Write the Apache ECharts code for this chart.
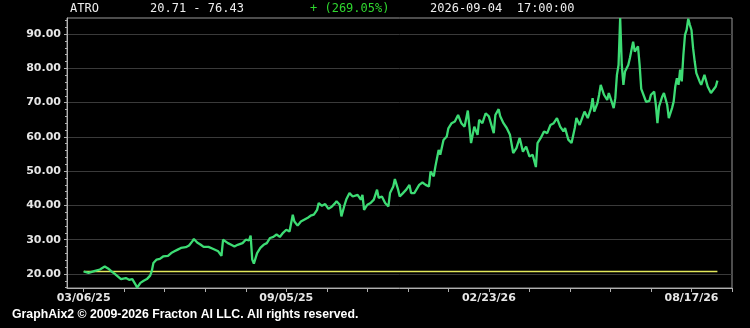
<!DOCTYPE html>
<html><head><meta charset="utf-8">
<script src="https://cdn.jsdelivr.net/npm/echarts@6/dist/echarts.min.js"></script>
<style>html,body{margin:0;padding:0;background:#000}#c{width:750px;height:328px}</style>
</head><body><div id="c"></div>
<script>
const symbol = 'ATRO';
const stamp = '2026-09-04  17:00:00';
const footer = 'GraphAix2 \u00A9 2009-2026 Fracton AI LLC. All rights reserved.';
// trading-day index since 03/06/25
const days = [0,3,5,7,10,13,15,17,19,21,23,26,28,30,32,33,35,37,39,41,42,43,45,47,49,52,54,56,58,60,63,65,67,68,70,72,74,77,80,83,85,86,87,89,91,93,95,98,100,102,103,104,105,107,109,111,113,115,117,119,121,123,125,127,129,130,132,134,136,138,140,142,144,145,147,149,151,153,155,156,158,159,161,162,164,166,169,171,172,173,175,177,179,181,182,184,186,188,189,191,192,194,195,197,199,201,202,204,207,209,211,213,214,216,217,219,220,222,224,225,227,229,231,233,235,237,238,239,241,243,244,246,248,250,253,254,256,257,259,261,263,265,267,269,271,273,275,277,279,280,282,284,286,288,290,292,294,296,297,299,301,303,304,306,307,309,311,313,314,315,317,318,319,321,323,324,326,327,328,329,330,331,332,333,334,336,337,339,340,342,343,344,346,347,349,350,352,353,354,355,357,358,360,361,363,364,365,366,367,368,369,370,371,372,373,374,375,376,377,378,380,381,383,384,385,387,388,390,391];
const prices = [20.71,20.3,20.6,20.9,21.3,22.2,21.6,20.8,20.1,19.3,18.5,18.8,18.3,18.5,16.9,16.0,17.4,18.0,18.5,19.5,20.8,23.2,24.2,24.4,25.1,25.3,26.1,26.6,27.1,27.6,27.8,28.3,29.5,30.2,29.2,28.6,27.9,27.9,27.3,26.6,25.3,30.0,29.8,29.0,28.5,28.0,28.5,29.0,30.0,29.8,31.2,24.2,23.0,26.1,27.6,28.5,29.0,30.5,30.8,31.5,30.8,32.0,32.9,32.4,37.3,35.3,34.1,35.3,35.8,36.3,37.0,37.3,38.7,40.7,39.9,40.4,39.0,39.6,40.6,41.2,40.2,36.8,40.2,41.7,43.6,42.6,43.1,41.7,43.1,38.7,40.2,40.7,41.7,44.6,42.2,42.6,40.7,39.7,43.6,45.5,47.7,44.6,42.6,43.6,44.6,46.0,43.6,43.6,46.0,46.7,46.0,45.5,49.9,48.5,51.4,56.2,54.8,59.1,60.1,62.5,64.0,64.5,66.4,64.0,63.0,67.7,63.0,58.2,63.0,60.6,65.0,64.0,66.9,66.0,61.1,66.4,68.1,66.0,64.0,62.6,60.6,55.3,56.7,59.7,55.7,57.2,54.3,54.8,51.2,58.2,59.7,61.6,61.1,63.5,64.0,65.5,63.0,61.6,62.6,59.2,58.2,62.6,65.5,63.5,64.0,67.4,65.5,68.4,71.3,67.4,69.9,72.3,75.2,72.3,70.8,72.8,69.9,68.4,71.3,78.1,81.0,94.7,81.0,75.2,79.1,81.0,83.0,87.8,84.9,86.4,81.0,74.0,71.5,70.2,70.5,72.3,73.2,69.4,64.0,68.9,71.8,72.8,69.4,65.5,68.4,70.3,74.7,77.1,75.2,79.6,76.2,83.9,89.8,91.2,94.5,92.7,91.2,85.9,82.0,78.6,76.2,75.2,78.1,77.6,74.7,72.8,72.5,74.7,76.43];
const yTicks = [20,30,40,50,60,70,80,90];
const xTickDays = [0,125,250,375];
const xTickLabels = ['03/06/25','09/05/25','02/23/26','08/17/26'];

const yMin = 15.9, yMax = 94.7, xMin = -10.3, xMax = 400;
const yMinor = []; for (let v = 16; v <= 94; v += 2) yMinor.push(v);
const xMinor = []; for (let v = 0; v <= 400; v += 25) xMinor.push(v);

const first = prices[0], last = prices[prices.length - 1];
const pct = (last / first - 1) * 100;
const mono = 'DejaVu Sans Mono';
const labelMap = {}; xTickDays.forEach((d, i) => labelMap[d] = xTickLabels[i]);

const chart = echarts.init(document.getElementById('c'));
chart.setOption({
  backgroundColor: '#000',
  animation: false,
  grid: { left: 67, right: 18, top: 18, bottom: 40, show: true, borderColor: '#9a9a9a', borderWidth: 1, backgroundColor: 'transparent' },
  xAxis: [
    { type: 'value', min: xMin, max: xMax, position: 'bottom',
      axisLine: { onZero: false, lineStyle: { color: '#b0b0b0', width: 1 } },
      axisTick: { customValues: xTickDays, length: 4, lineStyle: { color: '#b0b0b0' } },
      axisLabel: { customValues: xTickDays, formatter: v => labelMap[v] || '', color: '#e6e6e6', fontFamily: 'DejaVu Sans', fontWeight: 'bold', fontSize: 11, margin: 5 },
      splitLine: { show: false } },
    { type: 'value', min: xMin, max: xMax, position: 'bottom', offset: 0,
      axisLine: { show: false, onZero: false },
      axisTick: { customValues: xMinor, length: 4, lineStyle: { color: '#b0b0b0' } },
      axisLabel: { show: false }, splitLine: { show: false } }
  ],
  yAxis: [
    { type: 'value', min: yMin, max: yMax, position: 'left',
      axisLine: { show: true, onZero: false, lineStyle: { color: '#b0b0b0', width: 1 } },
      axisTick: { customValues: yTicks, length: 3, lineStyle: { color: '#b0b0b0' } },
      axisLabel: { customValues: yTicks, formatter: v => v.toFixed(2), color: '#e6e6e6', fontFamily: 'DejaVu Sans', fontWeight: 'bold', fontSize: 11, margin: 6 },
      splitLine: { show: true, lineStyle: { color: '#3a3a3a', width: 1 } } },
    { type: 'value', min: yMin, max: yMax, position: 'left', offset: 0,
      axisLine: { show: false, onZero: false },
      axisTick: { customValues: yMinor, length: 2, lineStyle: { color: '#b0b0b0' } },
      axisLabel: { show: false }, splitLine: { show: false } }
  ],
  series: [
    { type: 'line', data: [[days[0], first], [days[days.length - 1], first]], symbol: 'none',
      lineStyle: { color: '#e2e85a', width: 1.5 }, silent: true, z: 2 },
    { type: 'line', data: days.map((d, i) => [d, prices[i]]), symbol: 'none', clip: true,
      lineStyle: { color: '#3ddc74', width: 2.3 }, z: 3 }
  ],
  graphic: [
    { type: 'text', left: 70, top: 3, style: { text: symbol, fill: '#eeeeee', font: '12px ' + mono } },
    { type: 'text', left: 150, top: 3, style: { text: first.toFixed(2) + ' - ' + last.toFixed(2), fill: '#eeeeee', font: '12px ' + mono } },
    { type: 'text', left: 310, top: 3, style: { text: (pct >= 0 ? '+' : '-') + ' (' + pct.toFixed(2) + '%)', fill: '#2fd62f', font: '12px ' + mono } },
    { type: 'text', left: 430, top: 3, style: { text: stamp, fill: '#eeeeee', font: '12px ' + mono } },
    { type: 'text', x: 12, y: 308, scaleX: 0.945, originX: 0, style: { text: footer, fill: '#ffffff', font: 'bold 13px "Liberation Sans", sans-serif' } }
  ]
});
</script></body></html>
